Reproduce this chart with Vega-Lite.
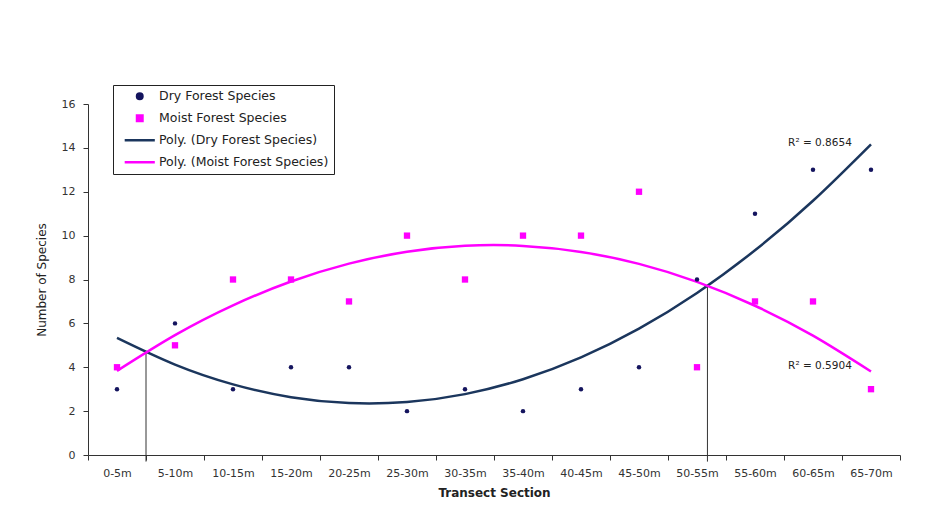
{
  "$schema": "https://vega.github.io/schema/vega-lite/v6.json",
  "width": 812,
  "height": 351,
  "autosize": {"type": "none"},
  "padding": {"left": 88, "top": 104, "right": 30, "bottom": 66},
  "background": "white",
  "config": {
    "view": {"stroke": null},
    "font": "DejaVu Sans",
    "axisX": {"tickBand": "extent", "labelAngle": 0, "labelFont": "DejaVu Sans", "labelFontSize": 11, "labelColor": "#333", "tickSize": 5, "tickColor": "#333", "domainColor": "#333", "labelPadding": 7, "titleFont": "DejaVu Sans", "titleFontSize": 12, "titleFontWeight": "bold", "titleColor": "#222", "titlePadding": 9, "grid": false},
    "axisY": {"tickCount": 8, "labelFont": "DejaVu Sans", "labelFontSize": 11, "labelColor": "#333", "tickSize": 5, "tickColor": "#333", "domainColor": "#333", "labelPadding": 8, "titleFont": "DejaVu Sans", "titleFontSize": 12, "titleFontWeight": "normal", "titleColor": "#222", "titlePadding": 13, "grid": false}
  },
  "datasets": {
    "points": [
      {"section": "0-5m", "series": "Dry Forest Species", "species": 3},
      {"section": "5-10m", "series": "Dry Forest Species", "species": 6},
      {"section": "10-15m", "series": "Dry Forest Species", "species": 3},
      {"section": "15-20m", "series": "Dry Forest Species", "species": 4},
      {"section": "20-25m", "series": "Dry Forest Species", "species": 4},
      {"section": "25-30m", "series": "Dry Forest Species", "species": 2},
      {"section": "30-35m", "series": "Dry Forest Species", "species": 3},
      {"section": "35-40m", "series": "Dry Forest Species", "species": 2},
      {"section": "40-45m", "series": "Dry Forest Species", "species": 3},
      {"section": "45-50m", "series": "Dry Forest Species", "species": 4},
      {"section": "50-55m", "series": "Dry Forest Species", "species": 8},
      {"section": "55-60m", "series": "Dry Forest Species", "species": 11},
      {"section": "60-65m", "series": "Dry Forest Species", "species": 13},
      {"section": "65-70m", "series": "Dry Forest Species", "species": 13},
      {"section": "0-5m", "series": "Moist Forest Species", "species": 4},
      {"section": "5-10m", "series": "Moist Forest Species", "species": 5},
      {"section": "10-15m", "series": "Moist Forest Species", "species": 8},
      {"section": "15-20m", "series": "Moist Forest Species", "species": 8},
      {"section": "20-25m", "series": "Moist Forest Species", "species": 7},
      {"section": "25-30m", "series": "Moist Forest Species", "species": 10},
      {"section": "30-35m", "series": "Moist Forest Species", "species": 8},
      {"section": "35-40m", "series": "Moist Forest Species", "species": 10},
      {"section": "40-45m", "series": "Moist Forest Species", "species": 10},
      {"section": "45-50m", "series": "Moist Forest Species", "species": 12},
      {"section": "50-55m", "series": "Moist Forest Species", "species": 4},
      {"section": "55-60m", "series": "Moist Forest Species", "species": 7},
      {"section": "60-65m", "series": "Moist Forest Species", "species": 7},
      {"section": "65-70m", "series": "Moist Forest Species", "species": 3}
    ],
    "trend": [
      {"section": "0-5m", "series": "Poly. (Dry Forest Species)", "fit": 5.336},
      {"section": "5-10m", "series": "Poly. (Dry Forest Species)", "fit": 4.119},
      {"section": "10-15m", "series": "Poly. (Dry Forest Species)", "fit": 3.219},
      {"section": "15-20m", "series": "Poly. (Dry Forest Species)", "fit": 2.634},
      {"section": "20-25m", "series": "Poly. (Dry Forest Species)", "fit": 2.365},
      {"section": "25-30m", "series": "Poly. (Dry Forest Species)", "fit": 2.413},
      {"section": "30-35m", "series": "Poly. (Dry Forest Species)", "fit": 2.776},
      {"section": "35-40m", "series": "Poly. (Dry Forest Species)", "fit": 3.455},
      {"section": "40-45m", "series": "Poly. (Dry Forest Species)", "fit": 4.45},
      {"section": "45-50m", "series": "Poly. (Dry Forest Species)", "fit": 5.761},
      {"section": "50-55m", "series": "Poly. (Dry Forest Species)", "fit": 7.388},
      {"section": "55-60m", "series": "Poly. (Dry Forest Species)", "fit": 9.331},
      {"section": "60-65m", "series": "Poly. (Dry Forest Species)", "fit": 11.59},
      {"section": "65-70m", "series": "Poly. (Dry Forest Species)", "fit": 14.164},
      {"section": "0-5m", "series": "Poly. (Moist Forest Species)", "fit": 3.836},
      {"section": "5-10m", "series": "Poly. (Moist Forest Species)", "fit": 5.465},
      {"section": "10-15m", "series": "Poly. (Moist Forest Species)", "fit": 6.823},
      {"section": "15-20m", "series": "Poly. (Moist Forest Species)", "fit": 7.909},
      {"section": "20-25m", "series": "Poly. (Moist Forest Species)", "fit": 8.723},
      {"section": "25-30m", "series": "Poly. (Moist Forest Species)", "fit": 9.264},
      {"section": "30-35m", "series": "Poly. (Moist Forest Species)", "fit": 9.534},
      {"section": "35-40m", "series": "Poly. (Moist Forest Species)", "fit": 9.532},
      {"section": "40-45m", "series": "Poly. (Moist Forest Species)", "fit": 9.258},
      {"section": "45-50m", "series": "Poly. (Moist Forest Species)", "fit": 8.712},
      {"section": "50-55m", "series": "Poly. (Moist Forest Species)", "fit": 7.893},
      {"section": "55-60m", "series": "Poly. (Moist Forest Species)", "fit": 6.803},
      {"section": "60-65m", "series": "Poly. (Moist Forest Species)", "fit": 5.441},
      {"section": "65-70m", "series": "Poly. (Moist Forest Species)", "fit": 3.807}
    ]
  },
  "layer": [
    {
      "data": {"values": [{"section": "5-10m", "low": -0.3, "high": 4.69}]},
      "mark": {"type": "rule", "color": "#333", "strokeWidth": 1},
      "encoding": {
        "x": {"field": "section", "type": "ordinal", "bandPosition": 0, "title": "Transect Section", "scale": {"type": "band", "paddingInner": 0, "paddingOuter": 0, "domain": ["0-5m", "5-10m", "10-15m", "15-20m", "20-25m", "25-30m", "30-35m", "35-40m", "40-45m", "45-50m", "50-55m", "55-60m", "60-65m", "65-70m"]}},
        "y": {"field": "low", "type": "quantitative", "title": "Number of Species", "scale": {"domain": [0, 16], "nice": false}},
        "y2": {"field": "high"}
      }
    },
    {
      "data": {"values": [{"section": "50-55m", "low": -0.3, "high": 7.72}]},
      "mark": {"type": "rule", "color": "#333", "strokeWidth": 1},
      "encoding": {
        "x": {"field": "section", "type": "ordinal", "bandPosition": 0.68, "title": "Transect Section"},
        "y": {"field": "low", "type": "quantitative", "title": "Number of Species"},
        "y2": {"field": "high"}
      }
    },
    {
      "data": {"name": "trend"},
      "mark": {"type": "line", "interpolate": "natural", "strokeWidth": 2.5},
      "encoding": {
        "x": {"field": "section", "type": "ordinal", "bandPosition": 0.5, "title": "Transect Section"},
        "y": {"field": "fit", "type": "quantitative", "title": "Number of Species"},
        "color": {
          "field": "series", "type": "nominal",
          "scale": {"domain": ["Dry Forest Species", "Moist Forest Species", "Poly. (Dry Forest Species)", "Poly. (Moist Forest Species)"], "range": ["#14145e", "#ff00ff", "#1b365d", "#ff00ff"]},
          "legend": {
            "orient": "none", "legendX": 25, "legendY": -19, "title": null, "direction": "vertical",
            "strokeColor": "#222", "fillColor": "white", "padding": 5, "gridAlign": "all",
            "labelFont": "DejaVu Sans", "labelFontSize": 12.5, "labelColor": "#222", "labelLimit": 300,
            "symbolSize": 30, "symbolStrokeWidth": 2.5, "symbolOffset": 15.5, "labelOffset": 13, "rowPadding": 6,
            "encode": {"symbols": {"update": {
              "shape": [{"test": "datum.value === 'Dry Forest Species'", "value": "circle"}, {"test": "datum.value === 'Moist Forest Species'", "value": "square"}, {"value": "M-5.5,0H5.5"}],
              "fill": [{"test": "indexof(datum.value, 'Poly') === 0", "value": "transparent"}, {"scale": "color", "field": "value"}],
              "stroke": [{"test": "indexof(datum.value, 'Poly') === 0", "scale": "color", "field": "value"}, {"value": "transparent"}],
              "opacity": {"value": 1}
            }}}
          }
        }
      }
    },
    {
      "data": {"name": "points"},
      "transform": [{"filter": "datum.series === 'Dry Forest Species'"}],
      "mark": {"type": "circle", "size": 20, "opacity": 1},
      "encoding": {
        "x": {"field": "section", "type": "ordinal", "bandPosition": 0.5, "title": "Transect Section"},
        "y": {"field": "species", "type": "quantitative", "title": "Number of Species"},
        "color": {"field": "series", "type": "nominal"}
      }
    },
    {
      "data": {"name": "points"},
      "transform": [{"filter": "datum.series === 'Moist Forest Species'"}],
      "mark": {"type": "square", "size": 40, "opacity": 1},
      "encoding": {
        "x": {"field": "section", "type": "ordinal", "bandPosition": 0.5, "title": "Transect Section"},
        "y": {"field": "species", "type": "quantitative", "title": "Number of Species"},
        "color": {"field": "series", "type": "nominal"}
      }
    },
    {
      "data": {"values": [{"section": "60-65m", "value": 14.2, "label": "R² = 0.8654"}, {"section": "60-65m", "value": 4.05, "label": "R² = 0.5904"}]},
      "mark": {"type": "text", "font": "DejaVu Sans", "fontSize": 10.5, "color": "#222", "align": "center", "baseline": "middle"},
      "encoding": {
        "x": {"field": "section", "type": "ordinal", "bandPosition": 0.62, "title": "Transect Section"},
        "y": {"field": "value", "type": "quantitative", "title": "Number of Species"},
        "text": {"field": "label"}
      }
    }
  ]
}
